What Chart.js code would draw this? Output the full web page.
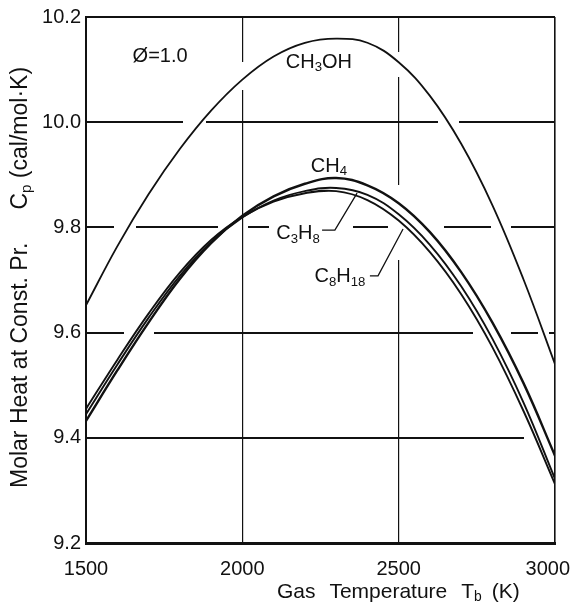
<!DOCTYPE html>
<html>
<head>
<meta charset="utf-8">
<script src="https://cdn.jsdelivr.net/npm/chart.js@4.4.1/dist/chart.umd.min.js"></script>
<style>
  html, body { margin: 0; padding: 0; background: #fff; }
</style>
</head>
<body>
<canvas id="cpChart" width="574" height="606"></canvas>
<script>
// gas temperature Tb (K)
const temps = [1500, 1600, 1700, 1800, 1900, 2000, 2100, 2200, 2300, 2400, 2500, 2600, 2700, 2800, 2900, 3000];
// molar heat Cp (cal/mol K)
const ch3oh = [9.652, 9.764, 9.863, 9.949, 10.022, 10.081, 10.125, 10.151, 10.159, 10.151, 10.114, 10.050, 9.959, 9.842, 9.700, 9.540];
const ch4   = [9.432, 9.528, 9.619, 9.702, 9.770, 9.822, 9.859, 9.883, 9.894, 9.880, 9.846, 9.791, 9.715, 9.619, 9.503, 9.366];
const c3h8  = [9.445, 9.539, 9.628, 9.708, 9.772, 9.819, 9.851, 9.869, 9.875, 9.862, 9.825, 9.767, 9.688, 9.588, 9.466, 9.322];
const c8h18 = [9.455, 9.548, 9.636, 9.714, 9.776, 9.820, 9.849, 9.865, 9.869, 9.852, 9.813, 9.753, 9.673, 9.572, 9.450, 9.312];

const xTicks = [1500, 2000, 2500, 3000];
const yTicks = [9.2, 9.4, 9.6, 9.8, 10.0, 10.2];

const INK = '#111';
const FONT = '"Liberation Sans", Arial, sans-serif';

// the printed grid lines are broken in places (dash pattern in px, along the line)
const yGridDash = {
  '10.0': [96, 23, 232, 21, 300],
  '9.8': [27, 22, 82, 30, 21, 84, 35, 56, 47, 20, 45],
  '9.6': [37, 30, 319, 38, 27, 11, 40],
  '9.4': [437, 200]
};
const xGridDash = {
  '2000': [45, 28, 700],
  '2500': [35, 25, 108, 75, 400]
};

// curve labels, placed in data units; "_x" = subscript, number = gap in px
const curveLabels = [
  { parts: ['Ø=1.0'], x: 1737, y: 10.128 },
  { parts: ['CH', '_3', 'OH'], x: 2245, y: 10.117 },
  { parts: ['CH', '_4'], x: 2277, y: 9.919 },
  { parts: ['C', '_3', 'H', '_8'], x: 2178, y: 9.791,
    leader: [[2255, 9.795], [2296, 9.795], [2367, 9.865]] },
  { parts: ['C', '_8', 'H', '_18'], x: 2312, y: 9.709,
    leader: [[2408, 9.708], [2434, 9.708], [2514, 9.797]] }
];

function setFont(ctx, size, sub) {
  ctx.font = (sub ? size * 0.66 : size) + 'px ' + FONT;
}

function richWidth(ctx, parts, size) {
  let w = 0;
  parts.forEach(p => {
    if (typeof p === 'number') { w += p; return; }
    const sub = p.startsWith('_');
    setFont(ctx, size, sub);
    w += ctx.measureText(sub ? p.slice(1) : p).width;
  });
  return w;
}

// draws text with subscripts, x = start, y = baseline
function drawRich(ctx, parts, x, y, size) {
  ctx.textAlign = 'left';
  ctx.textBaseline = 'alphabetic';
  ctx.fillStyle = INK;
  parts.forEach(p => {
    if (typeof p === 'number') { x += p; return; }
    const sub = p.startsWith('_');
    const t = sub ? p.slice(1) : p;
    setFont(ctx, size, sub);
    ctx.fillText(t, x, sub ? y + size * 0.16 : y);
    x += ctx.measureText(t).width;
  });
}

const textPlugin = {
  id: 'cpText',
  afterDatasetsDraw(chart) {
    const ctx = chart.ctx;
    const xs = chart.scales.x, ys = chart.scales.y;
    const area = chart.chartArea;
    ctx.save();

    // curve labels and leader lines
    curveLabels.forEach(l => {
      const size = 20;
      const w = richWidth(ctx, l.parts, size);
      const cx = xs.getPixelForValue(l.x);
      const cy = ys.getPixelForValue(l.y);
      drawRich(ctx, l.parts, cx - w / 2, cy + size * 0.36, size);
      if (l.leader) {
        ctx.beginPath();
        l.leader.forEach((pt, i) => {
          const px = xs.getPixelForValue(pt[0]), py = ys.getPixelForValue(pt[1]);
          if (i === 0) ctx.moveTo(px, py); else ctx.lineTo(px, py);
        });
        ctx.strokeStyle = INK;
        ctx.lineWidth = 1.3;
        ctx.stroke();
      }
    });

    // x tick labels (kept inside the canvas at the right edge)
    ctx.font = '20px ' + FONT;
    ctx.textAlign = 'center';
    ctx.textBaseline = 'alphabetic';
    ctx.fillStyle = INK;
    xTicks.forEach(t => {
      const label = String(t);
      const half = ctx.measureText(label).width / 2;
      let px = xs.getPixelForValue(t);
      px = Math.min(px, chart.width - half - 4);
      ctx.fillText(label, px, area.bottom + 32);
    });

    // x axis title
    drawRich(ctx, ['Gas', 14, 'Temperature', 14, 'T', '_b', 10, '(K)'],
      area.left + 0.407 * (area.right - area.left), area.bottom + 55, 21);

    // y axis title, rotated
    ctx.translate(27, area.bottom - 55);
    ctx.rotate(-Math.PI / 2);
    drawRich(ctx, ['Molar Heat at Const. Pr.', 33, 'C', '_p', ' (cal/mol·K)'], 0, 0, 23);
    ctx.restore();
  }
};

const series = [
  { label: 'CH3OH', values: ch3oh, width: 1.8 },
  { label: 'CH4', values: ch4, width: 2.4 },
  { label: 'C3H8', values: c3h8, width: 1.9 },
  { label: 'C8H18', values: c8h18, width: 1.9 }
];

new Chart(document.getElementById('cpChart'), {
  type: 'line',
  data: {
    datasets: series.map(s => ({
      label: s.label,
      data: temps.map((t, i) => ({ x: t, y: s.values[i] })),
      borderColor: INK,
      borderWidth: s.width,
      pointRadius: 0,
      tension: 0.4,
      fill: false
    }))
  },
  options: {
    responsive: false,
    animation: false,
    devicePixelRatio: 1,
    layout: { padding: { top: 17, right: 19, left: 0, bottom: 0 } },
    plugins: {
      legend: { display: false },
      tooltip: { enabled: false }
    },
    scales: {
      x: {
        type: 'linear',
        min: 1500, max: 3000,
        afterBuildTicks: s => { s.ticks = xTicks.map(v => ({ value: v })); },
        afterFit: s => { s.height = 63; s.paddingLeft = 0; s.paddingRight = 0; },
        ticks: { display: false },
        grid: {
          color: INK,
          drawTicks: false,
          lineWidth: c => c.tick && c.tick.value === 1500 ? 2 : (c.tick && c.tick.value === 3000 ? 1.6 : 1.2)
        },
        border: {
          display: true, color: INK, width: 3,
          dash: c => (c.tick && xGridDash[String(c.tick.value)]) || []
        }
      },
      y: {
        type: 'linear',
        min: 9.2, max: 10.2,
        afterBuildTicks: s => { s.ticks = yTicks.map(v => ({ value: v })); },
        afterFit: s => { s.width = 86; },
        ticks: {
          color: INK,
          padding: 5,
          font: { family: FONT, size: 20 },
          callback: v => v.toFixed(1)
        },
        grid: {
          color: INK,
          drawTicks: false,
          lineWidth: c => c.tick && c.tick.value === 9.2 ? 3 : 2
        },
        border: {
          display: true, color: INK, width: 2,
          dash: c => (c.tick && yGridDash[c.tick.value.toFixed(1)]) || []
        }
      }
    }
  },
  plugins: [textPlugin]
});
</script>
</body>
</html>
